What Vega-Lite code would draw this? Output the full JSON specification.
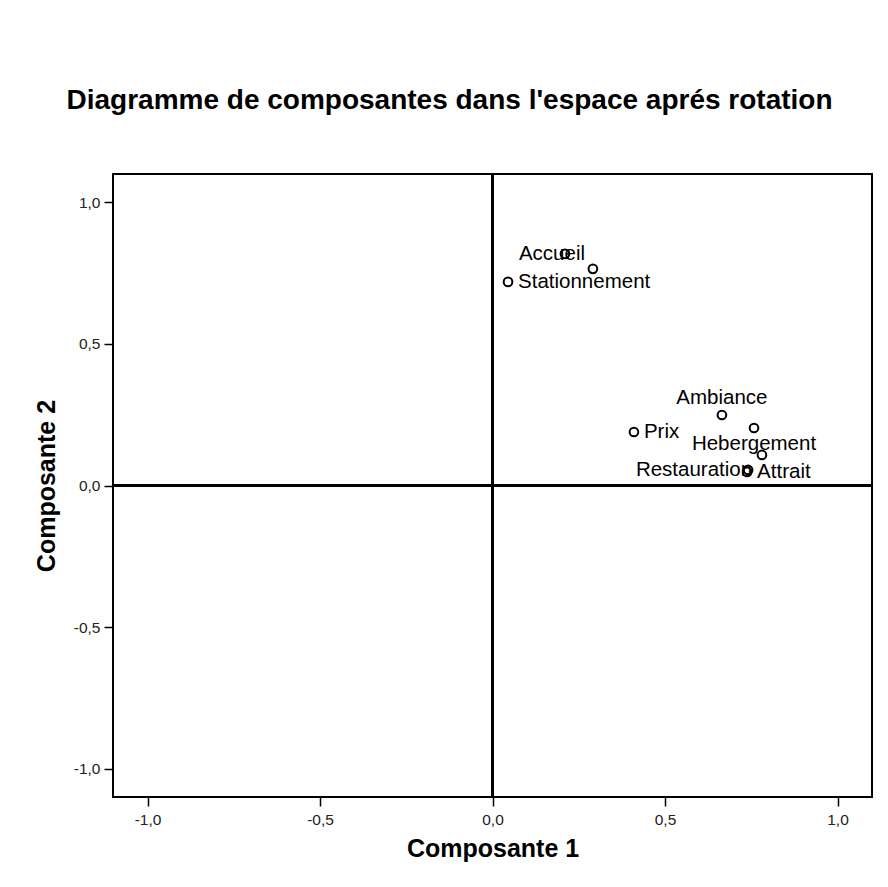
{
  "$schema": "https://vega.github.io/schema/vega-lite/v6.json",
  "autosize": {"type": "none"},
  "padding": {"left": 113, "top": 174, "right": 16, "bottom": 90},
  "width": 759,
  "height": 623,
  "background": "white",
  "title": {
    "text": "Diagramme de composantes dans l'espace aprés rotation",
    "font": "Liberation Sans",
    "fontSize": 28,
    "fontWeight": "bold",
    "color": "black",
    "anchor": "middle",
    "dx": -43,
    "offset": 58
  },
  "config": {
    "view": {"stroke": "black", "strokeWidth": 2},
    "font": "Liberation Sans",
    "text": {"font": "Liberation Sans"}
  },
  "data": {
    "values": [
      {"label": "Accueil", "c1": 0.210, "c2": 0.818},
      {"label": "", "c1": 0.291, "c2": 0.765},
      {"label": "Stationnement", "c1": 0.045, "c2": 0.719},
      {"label": "Ambiance", "c1": 0.665, "c2": 0.249},
      {"label": "Hebergement", "c1": 0.758, "c2": 0.203},
      {"label": "Prix", "c1": 0.410, "c2": 0.189},
      {"label": " ", "c1": 0.781, "c2": 0.108},
      {"label": "Restauration", "c1": 0.741, "c2": 0.055},
      {"label": "Attrait", "c1": 0.738, "c2": 0.048}
    ]
  },
  "encoding": {
    "x": {
      "field": "c1", "type": "quantitative",
      "scale": {"domain": [-1.1, 1.1], "nice": false, "zero": false},
      "axis": {
        "title": "Composante 1",
        "values": [-1, -0.5, 0, 0.5, 1],
        "labelExpr": "replace(replace(format(datum.value, '.1f'), '.', ','), '\u2212', '-')",
        "grid": false,
        "domain": false,
        "tickColor": "black", "tickWidth": 1.5, "tickSize": 9,
        "labelFont": "Liberation Sans", "labelFontSize": 15.5, "labelColor": "#222", "labelPadding": 6,
        "titleFont": "Liberation Sans", "titleFontSize": 25, "titleFontWeight": "bold", "titleColor": "black", "titlePadding": 9
      }
    },
    "y": {
      "field": "c2", "type": "quantitative",
      "scale": {"domain": [-1.1, 1.1], "nice": false, "zero": false},
      "axis": {
        "title": "Composante 2",
        "values": [-1, -0.5, 0, 0.5, 1],
        "labelExpr": "replace(replace(format(datum.value, '.1f'), '.', ','), '\u2212', '-')",
        "grid": false,
        "domain": false,
        "tickColor": "black", "tickWidth": 1.5, "tickSize": 9,
        "labelFont": "Liberation Sans", "labelFontSize": 15.5, "labelColor": "#222", "labelPadding": 4,
        "titleFont": "Liberation Sans", "titleFontSize": 25, "titleFontWeight": "bold", "titleColor": "black", "titlePadding": 14
      }
    }
  },
  "layer": [
    {
      "mark": {"type": "rule", "color": "black", "strokeWidth": 2},
      "encoding": {"x": {"datum": 0}, "y": null}
    },
    {
      "mark": {"type": "rule", "color": "black", "strokeWidth": 2},
      "encoding": {"y": {"datum": 0}, "x": null}
    },
    {
      "mark": {"type": "point", "shape": "circle", "filled": false, "stroke": "black", "strokeWidth": 2, "size": 75, "opacity": 1}
    },
    {
      "transform": [{"filter": "indexof(['Stationnement','Prix','Attrait'], datum.label) >= 0"}],
      "mark": {"type": "text", "align": "left", "baseline": "middle", "dx": 10, "fontSize": 20.5, "color": "black"},
      "encoding": {"text": {"field": "label"}}
    },
    {
      "transform": [{"filter": "datum.label == 'Restauration'"}],
      "mark": {"type": "text", "align": "right", "baseline": "middle", "dx": 4, "fontSize": 20.5, "color": "black"},
      "encoding": {"text": {"field": "label"}}
    },
    {
      "transform": [{"filter": "datum.label == 'Ambiance'"}],
      "mark": {"type": "text", "align": "center", "baseline": "middle", "dy": -17, "fontSize": 20.5, "color": "black"},
      "encoding": {"text": {"field": "label"}}
    },
    {
      "transform": [{"filter": "datum.label == 'Hebergement'"}],
      "mark": {"type": "text", "align": "center", "baseline": "middle", "dy": 16, "fontSize": 20.5, "color": "black"},
      "encoding": {"text": {"field": "label"}}
    },
    {
      "transform": [{"filter": "datum.label == 'Accueil'"}],
      "mark": {"type": "text", "align": "center", "baseline": "middle", "dx": -13, "dy": 0, "fontSize": 20.5, "color": "black"},
      "encoding": {"text": {"field": "label"}}
    }
  ]
}
